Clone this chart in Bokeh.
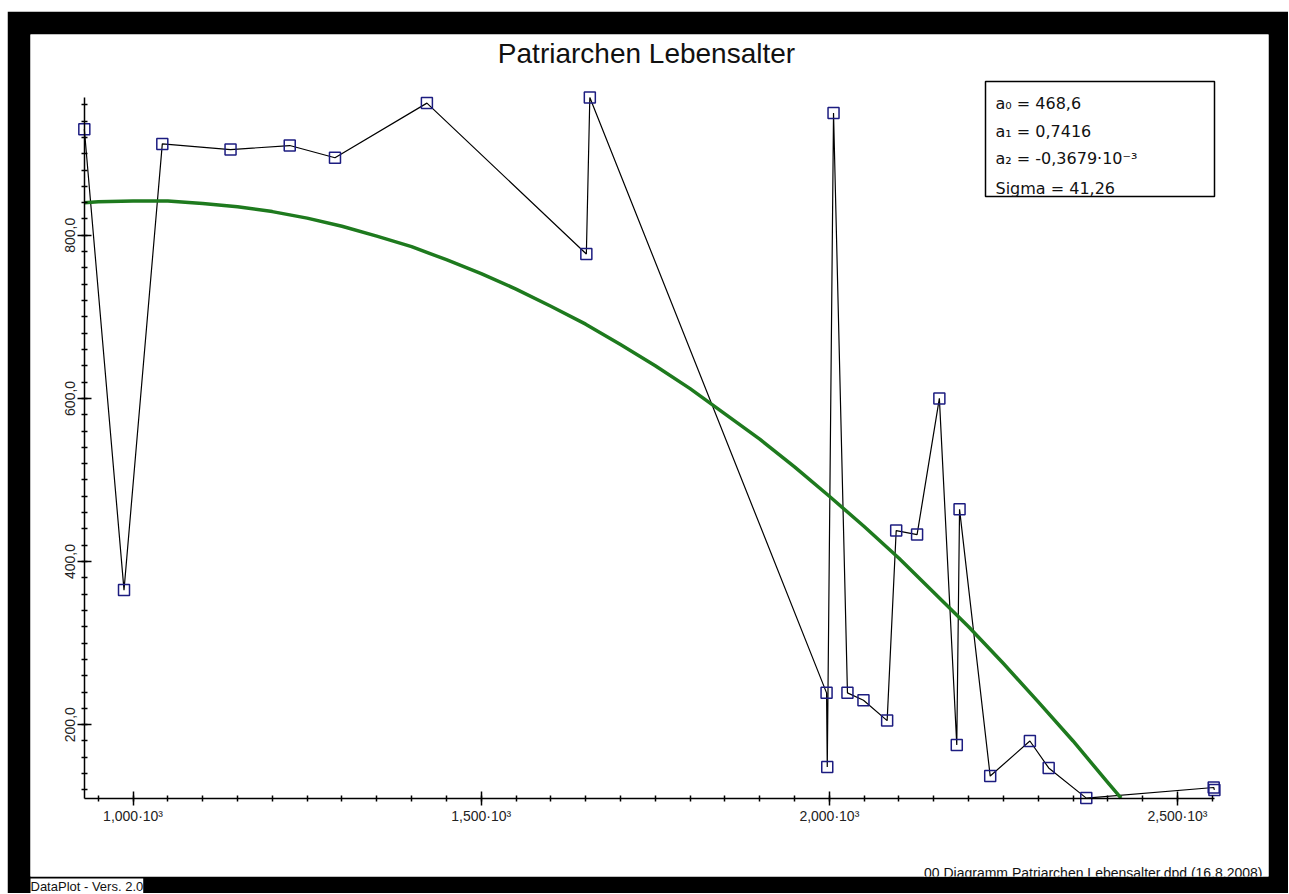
from bokeh.plotting import figure
from bokeh.models import LinearAxis, FixedTicker, Label, BoxAnnotation, Range1d, Title
from bokeh.embed import file_html
from bokeh.resources import INLINE

# --- data (year of death, age) ---
death_year = [930, 987, 1042, 1140, 1225, 1290, 1422, 1651, 1656, 1996, 1997, 2006,
              2026, 2049, 2083, 2096, 2126, 2158, 2183, 2187, 2231, 2288, 2315, 2369,
              2552, 2553]
age = [930, 365, 912, 905, 910, 895, 962, 777, 969, 239, 148, 950,
       239, 230, 205, 438, 433, 600, 175, 464, 137, 180, 147, 110,
       123, 120]

# quadratic fit curve
fit_x = [930, 950, 1000, 1050, 1100, 1150, 1200, 1250, 1300, 1350, 1400, 1450,
         1500, 1550, 1600, 1650, 1700, 1750, 1800, 1850, 1900, 1950, 2000, 2050,
         2100, 2150, 2200, 2250, 2300, 2350, 2400, 2419]
fit_y = [840, 841, 842, 842, 839, 835, 829, 821, 811, 799, 786, 770,
         753, 734, 713, 691, 666, 640, 612, 581, 550, 516, 480, 443,
         404, 362, 320, 275, 228, 180, 129, 110]

x_tick_values = [1000, 1500, 2000, 2500]
x_tick_labels = ["1,000·10³", "1,500·10³", "2,000·10³", "2,500·10³"]
y_tick_values = [200, 400, 600, 800]
y_tick_labels = ["200,0", "400,0", "600,0", "800,0"]

fit_text = ["a₀ = 468,6", "a₁ = 0,7416", "a₂ = -0,3679·10⁻³", "Sigma = 41,26"]
title_text = "Patriarchen Lebensalter"
footer_left = "DataPlot - Vers. 2.0"
footer_right = "00 Diagramm Patriarchen Lebensalter.dpd (16.8.2008)"

X_MIN, X_MAX = min(death_year), max(death_year)
Y_MIN, Y_MAX = min(age), max(age)

p = figure(width=1281, height=882, output_backend="svg", toolbar_location=None,
           x_axis_type=None, y_axis_type=None,
           x_range=Range1d(852.7, 2630.7), y_range=Range1d(13.88, 1046.12),
           min_border_left=23, min_border_right=20, min_border_top=23, min_border_bottom=16,
           border_fill_color="black", background_fill_color="white",
           outline_line_color=None)
p.margin = (11, 0, 0, 7)

xaxis = LinearAxis(fixed_location=Y_MIN, bounds=(X_MIN, X_MAX),
                   ticker=FixedTicker(ticks=x_tick_values,
                                      minor_ticks=list(range(950, 2551, 50))),
                   major_label_overrides=dict(zip(x_tick_values, x_tick_labels)))
yaxis = LinearAxis(fixed_location=X_MIN, bounds=(Y_MIN, Y_MAX),
                   ticker=FixedTicker(ticks=y_tick_values,
                                      minor_ticks=list(range(120, 961, 20))),
                   major_label_overrides=dict(zip(y_tick_values, y_tick_labels)),
                   major_label_orientation="vertical")
for ax in (xaxis, yaxis):
    ax.axis_line_color = "black"
    ax.axis_line_width = 1.5
    ax.major_tick_in = 7
    ax.major_tick_out = 7
    ax.minor_tick_in = 3
    ax.minor_tick_out = 3
    ax.major_tick_line_width = 1.5
    ax.minor_tick_line_width = 1.5
    ax.major_tick_line_color = "black"
    ax.minor_tick_line_color = "black"
    ax.major_label_text_font = "Liberation Sans"
    ax.major_label_text_font_size = "14px"
    ax.major_label_text_color = "#222222"
xaxis.major_label_standoff = 3
yaxis.major_label_standoff = 2
p.add_layout(xaxis, "below")
p.add_layout(yaxis, "left")

p.line(death_year, age, line_color="black", line_width=1.2)
p.scatter(death_year, age, marker="square", size=11, fill_color=None,
          line_color="#1c1c80", line_width=1.5)
p.line(fit_x, fit_y, line_color="#1e7a1e", line_width=3.5, line_join="round")

# title
p.add_layout(Label(x=616, y=823, x_units="screen", y_units="screen", text=title_text,
                   text_align="center", text_baseline="alphabetic",
                   text_font="Liberation Sans", text_font_size="28px",
                   text_color="#111111"))

# fit parameter box
p.add_layout(BoxAnnotation(left=955, right=1184, bottom=680, top=795,
                           left_units="screen", right_units="screen",
                           bottom_units="screen", top_units="screen",
                           fill_color=None, fill_alpha=0,
                           line_color="black", line_alpha=1.0, line_width=1.5))
for txt, yb in zip(fit_text, [773, 745, 718, 688]):
    p.add_layout(Label(x=965, y=yb, x_units="screen", y_units="screen", text=txt,
                       text_align="left", text_baseline="alphabetic",
                       text_font="DejaVu Sans", text_font_size="16px",
                       text_color="#111111"))

# footers
p.add_layout(Title(text=footer_left, align="left", standoff=0,
                   text_font="Liberation Sans", text_font_size="13px",
                   text_font_style="normal", text_color="#111111",
                   background_fill_color="white"), "below")
p.add_layout(Label(x=1232, y=4, x_units="screen", y_units="screen", text=footer_right,
                   text_align="right", text_baseline="alphabetic",
                   text_font="Liberation Sans", text_font_size="14px",
                   text_color="#111111", background_fill_color="white"))

open("out.html", "w").write(file_html(p, INLINE))
